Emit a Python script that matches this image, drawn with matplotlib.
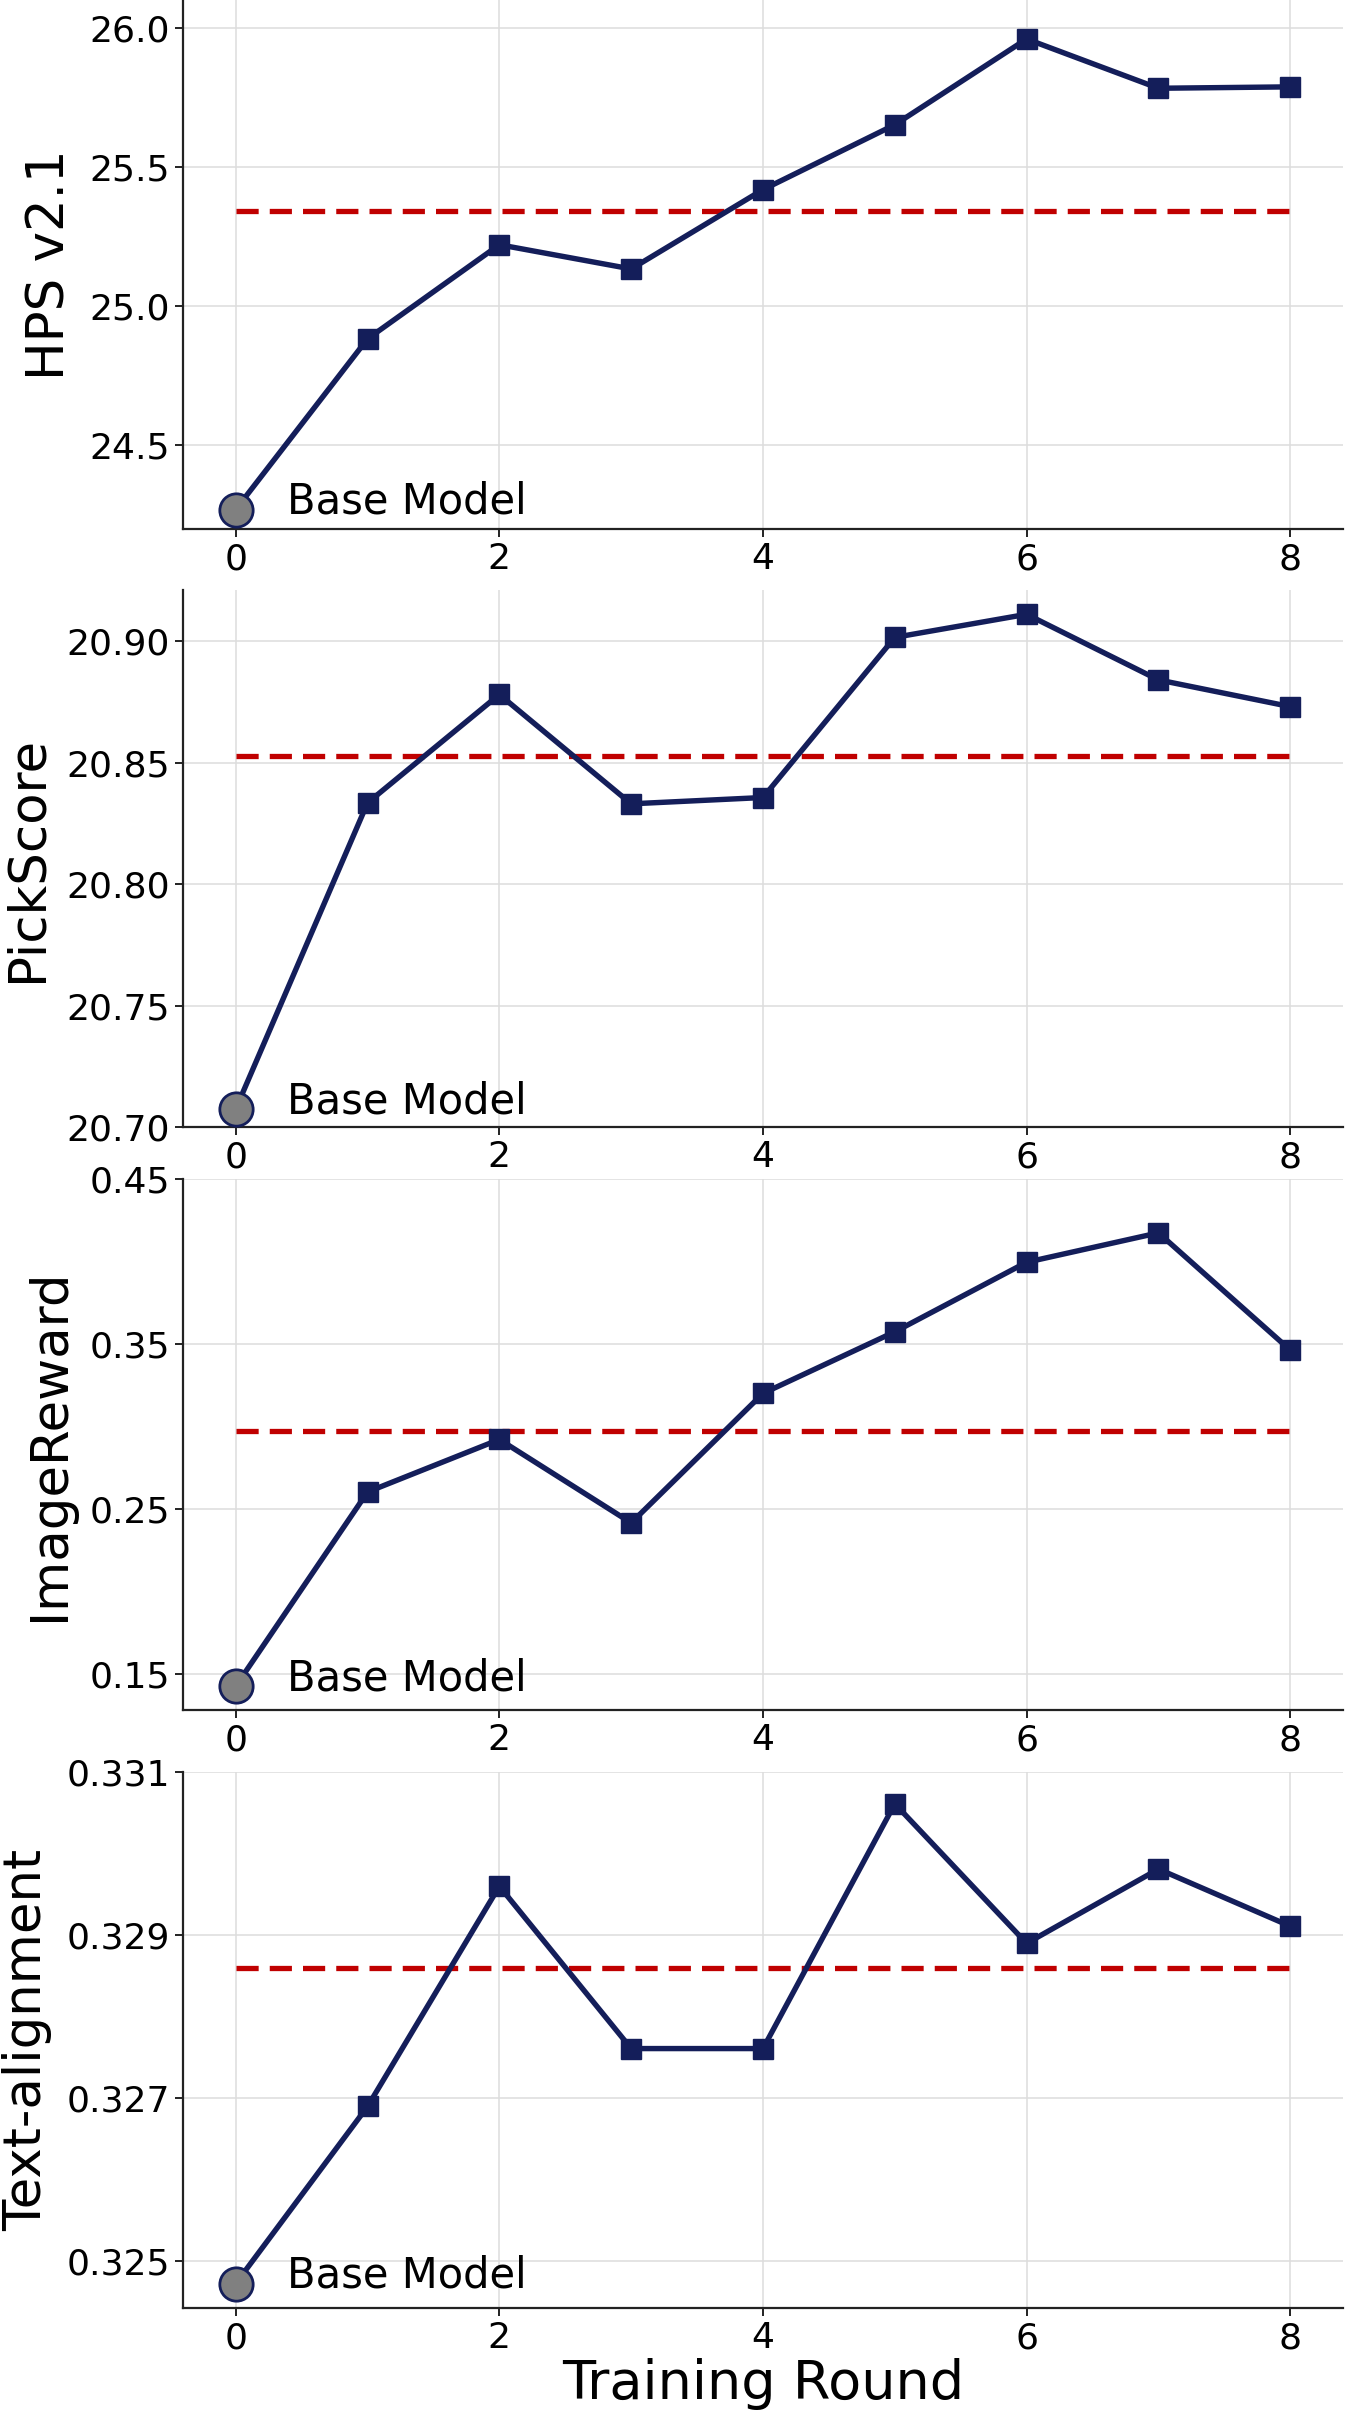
import matplotlib
matplotlib.use("Agg")
import matplotlib.pyplot as plt
from matplotlib.ticker import FormatStrFormatter

# training rounds 1..8 plus the base model at round 0
rounds = [0, 1, 2, 3, 4, 5, 6, 7, 8]

hps = [24.27, 24.883, 25.221, 25.134, 25.419, 25.652, 25.960, 25.783, 25.788]
pickscore = [20.7074, 20.8334, 20.878, 20.833, 20.8356, 20.9015, 20.911, 20.884, 20.873]
image_reward = [0.1429, 0.2605, 0.2923, 0.2418, 0.3202, 0.3575, 0.3996, 0.4174, 0.3464]
text_align = [0.32473, 0.32690, 0.32960, 0.32761, 0.32761, 0.33061, 0.32890, 0.32981, 0.32911]

# red dashed reference level per metric
ref_levels = [25.341, 20.8525, 0.2976, 0.3286]

metric_names = ["HPS v2.1", "PickScore", "ImageReward", "Text-alignment"]
y_limits = [(24.20, 26.10), (20.70, 20.921), (0.1285, 0.45), (0.32443, 0.331)]
y_ticks = [
    [24.5, 25.0, 25.5, 26.0],
    [20.70, 20.75, 20.80, 20.85, 20.90],
    [0.15, 0.25, 0.35, 0.45],
    [0.325, 0.327, 0.329, 0.331],
]
y_formats = ["%.1f", "%.2f", "%.2f", "%.3f"]
x_ticks = [0, 2, 4, 6, 8]

NAVY = "#141E5A"
RED = "#C00000"

W, H = 1346, 2423
fig = plt.figure(figsize=(W / 100, H / 100), dpi=100)

# axes boxes in pixels (top, bottom)
boxes = [(0, 529), (590, 1127), (1179, 1710), (1772, 2308)]
left_px, right_px = 183, 1343

series = [hps, pickscore, image_reward, text_align]

for i, (vals, name) in enumerate(zip(series, metric_names)):
    top, bot = boxes[i]
    ax = fig.add_axes([left_px / W, (H - bot) / H, (right_px - left_px) / W, (bot - top) / H])

    ax.grid(True, color="#dddddd", linewidth=1.1, zorder=0)
    ax.set_axisbelow(True)

    ax.plot([rounds[0], rounds[-1]], [ref_levels[i]] * 2, color=RED, linewidth=3.8,
            dashes=(4.2, 2.1), zorder=2)
    ax.plot(rounds, vals, color=NAVY, linewidth=3.9, marker="s", markersize=14,
            markerfacecolor=NAVY, markeredgecolor=NAVY, zorder=3)
    ax.plot(rounds[0], vals[0], marker="o", markersize=24, markerfacecolor="#808080",
            markeredgecolor=NAVY, markeredgewidth=2, linestyle="none", zorder=4)
    ax.annotate("Base Model", (rounds[0], vals[0]), xytext=(37, -3),
                textcoords="offset points", va="baseline", ha="left", fontsize=30)

    ax.set_xlim(-0.4, 8.4)
    ax.set_ylim(*y_limits[i])
    ax.set_xticks(x_ticks)
    ax.set_yticks(y_ticks[i])
    ax.yaxis.set_major_formatter(FormatStrFormatter(y_formats[i]))
    ax.tick_params(labelsize=26, length=6, width=1.4, color="#222222")

    for s in ["top", "right"]:
        ax.spines[s].set_visible(False)
    for s in ["left", "bottom"]:
        ax.spines[s].set_linewidth(1.6)
        ax.spines[s].set_color("#222222")

    ax.set_ylabel(name, fontsize=37, labelpad=10)
    if i == 3:
        ax.set_xlabel("Training Round", fontsize=39, labelpad=2)

fig.savefig("out.png", dpi=100)
